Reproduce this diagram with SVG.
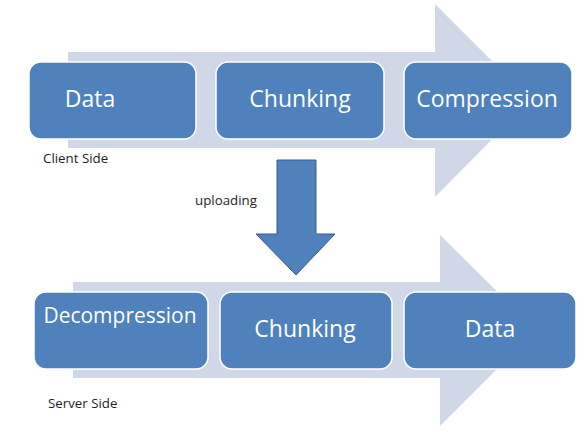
<svg xmlns="http://www.w3.org/2000/svg" width="587" height="434" viewBox="0 0 587 434">
  <style>
    .flow { fill: #D0D8E8; }
    .step { fill: #4F81BD; stroke: #FFFFFF; stroke-width: 1.5; }
    .step-text { font-family: "Open Sans", "Liberation Sans", sans-serif; font-size: 23px; fill: #FFFFFF; text-anchor: middle; }
    .step-text.small { font-size: 21px; }
    .label { font-family: "Open Sans", "Liberation Sans", sans-serif; font-size: 13.3px; fill: #1E1E1E; }
    .upload { fill: #4F81BD; stroke: #385D8A; stroke-width: 1; }
  </style>
  <rect width="587" height="434" fill="#FFFFFF"/>

  <!-- background process arrows and the upload arrow -->
  <g id="connectors">
    <polygon class="flow" points="68,52 435,52 435,4 531,100 435,197 435,148 68,148"/>
    <polygon class="flow" points="73,282 440,282 440,235 536,330 440,426 440,378 73,378"/>
    <polygon class="upload" points="277,160 316,160 316,234 335,234 296,275 256,234 277,234"/>
  </g>

  <!-- client side steps -->
  <g id="client-data">
    <rect class="step" x="29" y="62" width="167" height="77" rx="12"/>
    <text class="step-text" x="90" y="107">Data</text>
  </g>
  <g id="client-chunking">
    <rect class="step" x="216" y="62" width="168" height="77" rx="12"/>
    <text class="step-text" x="300" y="107">Chunking</text>
  </g>
  <g id="client-compression">
    <rect class="step" x="404" y="62" width="168" height="77" rx="12"/>
    <text class="step-text" x="487" y="107">Compression</text>
  </g>
  <text class="label" x="43" y="163">Client Side</text>

  <text class="label" x="195" y="205">uploading</text>

  <!-- server side steps -->
  <g id="server-decompression">
    <rect class="step" x="34" y="292" width="174" height="77" rx="12"/>
    <text class="step-text small" x="120" y="323">Decompression</text>
  </g>
  <g id="server-chunking">
    <rect class="step" x="220" y="292" width="172" height="77" rx="12"/>
    <text class="step-text" x="305" y="337">Chunking</text>
  </g>
  <g id="server-data">
    <rect class="step" x="404" y="292" width="172" height="77" rx="12"/>
    <text class="step-text" x="490" y="337">Data</text>
  </g>
  <text class="label" x="48" y="408">Server Side</text>
</svg>
